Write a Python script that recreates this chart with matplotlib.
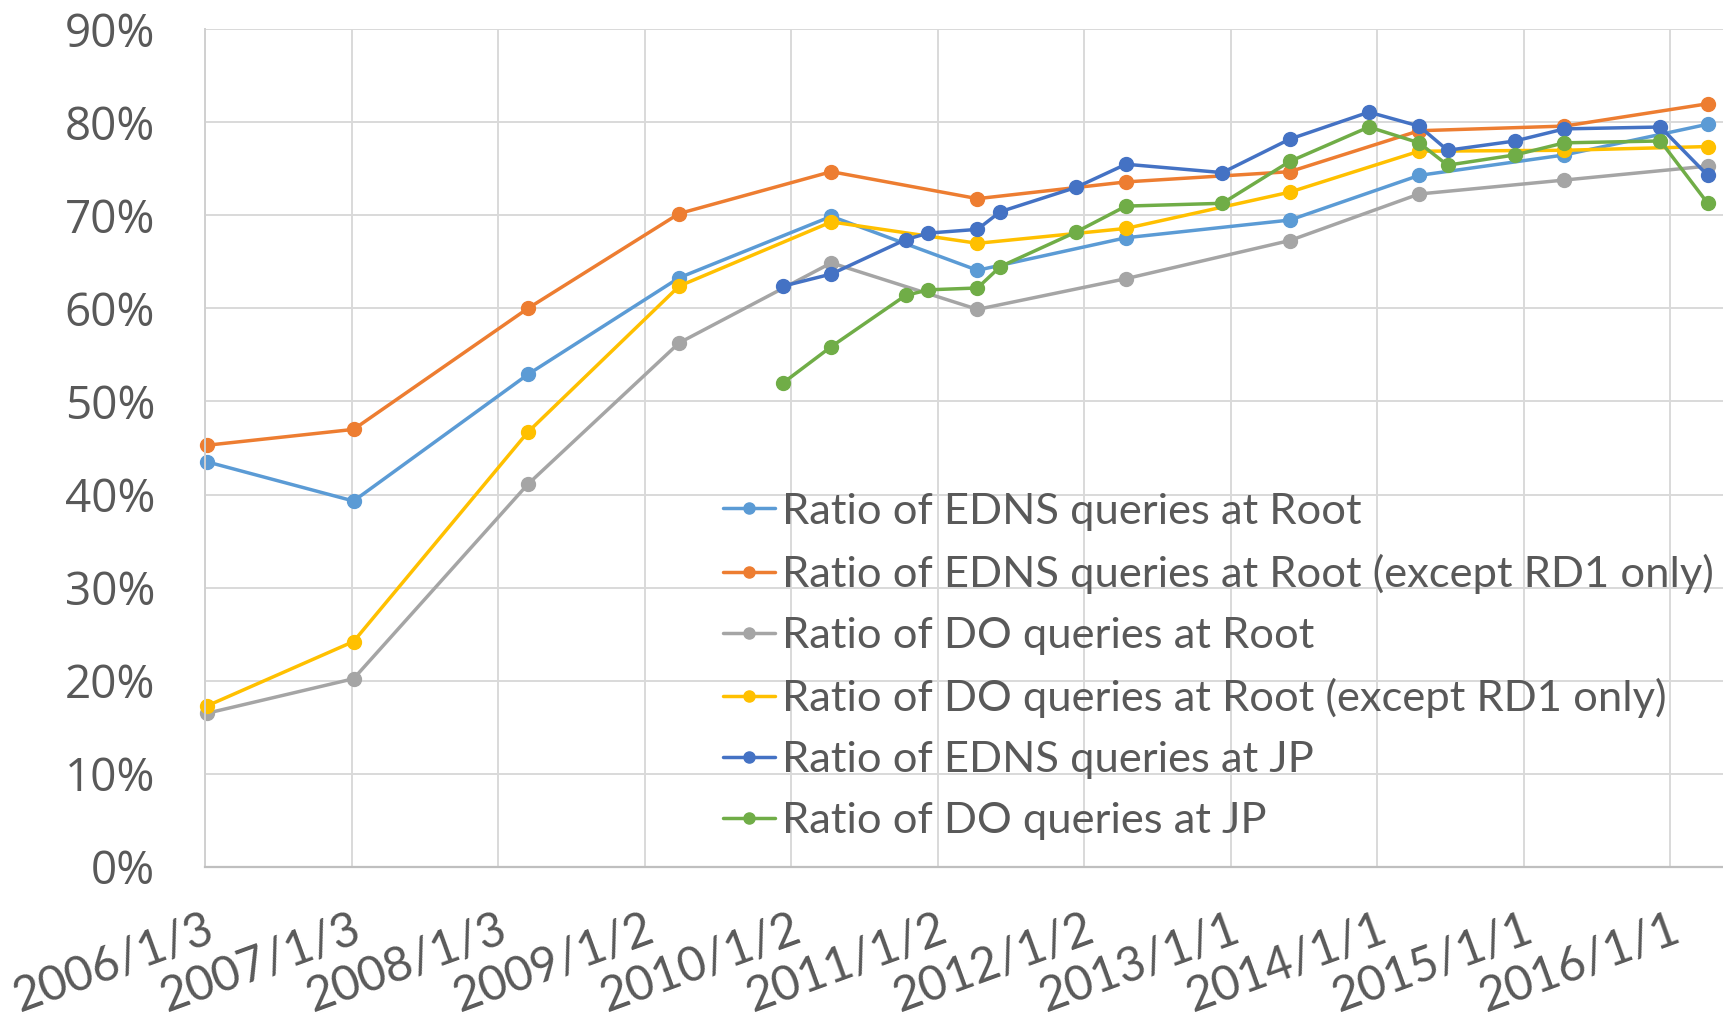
import matplotlib
matplotlib.use("Agg")
import matplotlib.pyplot as plt
from matplotlib.ticker import FuncFormatter, MultipleLocator
from datetime import date, timedelta

# survey dates (root DITL captures and JP captures)
root_dates = ["2006-01-09", "2007-01-08", "2008-03-17", "2009-03-29", "2010-04-12",
              "2011-04-11", "2012-04-15", "2013-05-28", "2014-04-15", "2015-04-12",
              "2016-04-03"]
jp_dates = ["2009-12-13", "2010-04-12", "2010-10-14", "2010-12-10", "2011-04-11",
            "2011-06-07", "2011-12-12", "2012-04-15", "2012-12-11", "2013-05-28",
            "2013-12-11", "2014-04-15", "2014-06-25", "2014-12-10", "2015-04-12",
            "2015-12-07", "2016-04-03"]

edns_root = [43.5, 39.3, 52.9, 63.3, 69.9, 64.1, 67.6, 69.5, 74.3, 76.5, 79.8]
edns_root_nord1 = [45.3, 47.0, 60.0, 70.2, 74.7, 71.8, 73.6, 74.7, 79.1, 79.6, 82.0]
do_root = [16.5, 20.2, 41.1, 56.3, 64.9, 59.9, 63.2, 67.3, 72.3, 73.8, 75.3]
do_root_nord1 = [17.3, 24.2, 46.7, 62.4, 69.3, 67.0, 68.6, 72.5, 76.9, 77.0, 77.4]
edns_jp = [62.4, 63.7, 67.4, 68.1, 68.5, 70.4, 73.0, 75.5, 74.6, 78.2, 81.1,
           79.6, 77.0, 78.0, 79.3, 79.5, 74.3]
do_jp = [52.0, 55.9, 61.4, 62.0, 62.2, 64.5, 68.2, 71.0, 71.3, 75.8, 79.5,
         77.8, 75.4, 76.5, 77.8, 78.0, 71.3]

labels = ["Ratio of EDNS queries at Root",
          "Ratio of EDNS queries at Root (except RD1 only)",
          "Ratio of DO queries at Root",
          "Ratio of DO queries at Root (except RD1 only)",
          "Ratio of EDNS queries at JP",
          "Ratio of DO queries at JP"]
colors = ["#5B9BD5", "#ED7D31", "#A5A5A5", "#FFC000", "#4472C4", "#70AD47"]


def to_dates(lst):
    return [date.fromisoformat(d) for d in lst]


series = [(root_dates, edns_root), (root_dates, edns_root_nord1),
          (root_dates, do_root), (root_dates, do_root_nord1),
          (jp_dates, edns_jp), (jp_dates, do_jp)]

fig = plt.figure(figsize=(17.23, 10.22), dpi=100)
ax = fig.add_axes([0.119, 0.152, 0.881, 0.8193])

for (d, v), lab, c in zip(series, labels, colors):
    ax.plot(to_dates(d), [x / 100 for x in v], color=c, lw=2.5, marker="o",
            markersize=10, label=lab, solid_capstyle="round", clip_on=False)

start = date(2006, 1, 3)
ticks = [start + timedelta(days=365 * k) for k in range(11)]
ax.set_xlim(start, date(2016, 5, 11))
ax.set_xticks(ticks)
ax.set_xticklabels([f"{t.year}/{t.month}/{t.day}" for t in ticks])
ax.set_ylim(0, 0.9)
ax.yaxis.set_major_locator(MultipleLocator(0.1))
ax.yaxis.set_major_formatter(FuncFormatter(lambda y, p: f"{round(y * 100)}%"))

ax.grid(True, color="#d9d9d9", lw=1.4)
ax.set_axisbelow(True)
for s in ["top", "right"]:
    ax.spines[s].set_visible(False)
ax.spines["left"].set_color("#d0d0d0")
ax.spines["left"].set_linewidth(1.4)
ax.spines["bottom"].set_color("#bfbfbf")
ax.spines["bottom"].set_linewidth(1.6)

ax.tick_params(axis="both", length=0, colors="#595959")
ax.tick_params(axis="y", pad=36)
ax.tick_params(axis="x", pad=29)
for t in ax.get_yticklabels():
    t.set_fontfamily("Open Sans")
    t.set_fontsize(33)
for t in ax.get_xticklabels():
    t.set_fontfamily("Lato")
    t.set_fontsize(34.5)
    t.set_rotation(20)
    t.set_ha("right")
    t.set_va("top")
    t.set_rotation_mode("anchor")

leg = fig.legend(loc="center left", bbox_to_anchor=(0.4196, 0.348), frameon=False,
                 prop={"family": "Lato", "size": 31.3}, handlelength=1.2,
                 handletextpad=0.16, labelspacing=0.53, borderpad=0,
                 borderaxespad=0)
for t in leg.get_texts():
    t.set_color("#595959")
for h in leg.legend_handles:
    h.set_markersize(8)

fig.savefig("out.png", dpi=100)
